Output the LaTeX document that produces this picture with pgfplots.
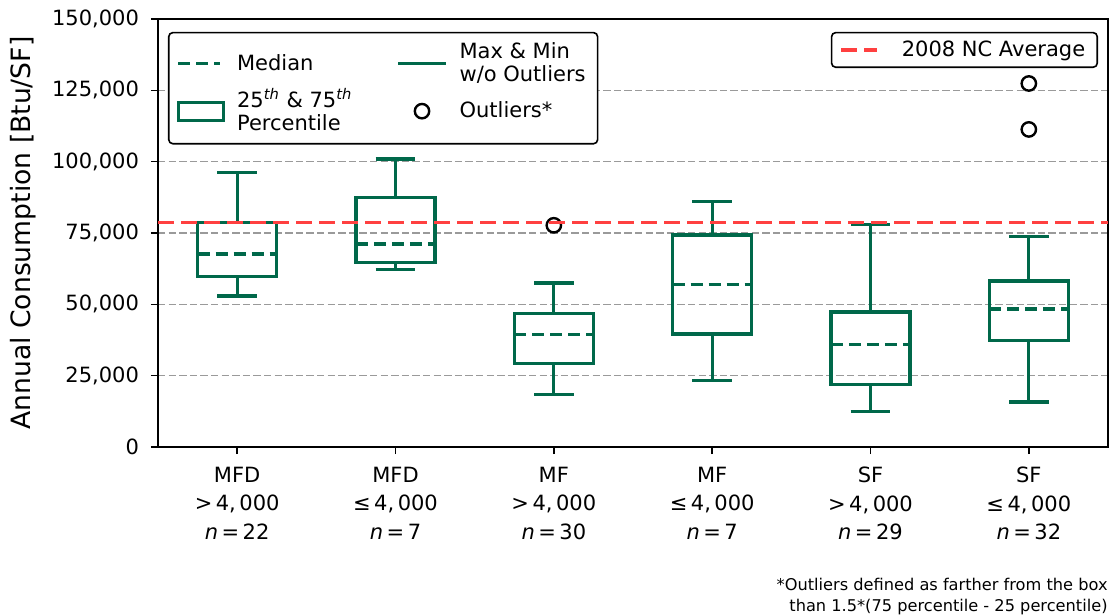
\documentclass[border=0pt]{standalone}
\usepackage{fontspec}
\setmainfont{DejaVu Sans}
\usepackage{pgfplots}
\pgfplotsset{compat=1.18}
\usepgfplotslibrary{statistics}
\definecolor{boxgreen}{HTML}{00684A}
\definecolor{avgred}{HTML}{FF4040}
\definecolor{gridgray}{HTML}{9A9A9A}

\begin{document}
\begin{tikzpicture}
% values in thousands of Btu/SF
\pgfplotsset{
  base/.style={width=475pt, height=214pt, scale only axis,
    xmin=0.5, xmax=6.5, ymin=0, ymax=150},
  bx/.style={forget plot, boxgreen, solid, line width=1.6pt,
    mark=o, mark size=3.6pt, mark options={draw=black, solid, line width=1.2pt},
    boxplot/draw direction=y,
    boxplot/box extend=0.5, boxplot/whisker extend=0.25,
    boxplot/every median/.style={line width=1.7pt, dash pattern=on 6pt off 3pt}},
}
\begin{axis}[base,
  axis line style={line width=0.8pt},
  tick pos=left, tick align=outside, major tick length=3.5pt,
  tick style={line width=0.8pt, black},
  xtick={1,2,3,4,5,6},
  xticklabels={
    {MFD\\{>}\,4,\,000\\\textit{n}\,=\,22},
    {MFD\\≤\,4,\,000\\\textit{n}\,=\,7},
    {MF\\{>}\,4,\,000\\\textit{n}\,=\,30},
    {MF\\≤\,4,\,000\\\textit{n}\,=\,7},
    {SF\\{>}\,4,\,000\\\textit{n}\,=\,29},
    {SF\\≤\,4,\,000\\\textit{n}\,=\,32}},
  xticklabel style={align=center, font=\fontsize{10.5}{14.25}\selectfont, yshift=-3pt},
  ytick={0,25,50,75,100,125,150},
  yticklabels={0,{25,000},{50,000},{75,000},{100,000},{125,000},{150,000}},
  yticklabel style={font=\fontsize{10.5}{12}\selectfont, xshift=-2.5pt},
  ymajorgrids,
  major grid style={gridgray, line width=0.8pt, dash pattern=on 3.7pt off 1.6pt},
  ylabel={Annual Consumption [Btu/SF]},
  ylabel style={font=\fontsize{13.3}{15}\selectfont,
    at={(axis description cs:-0.142,0.5)}, anchor=center},
  clip mode=individual,
  legend columns=2,
  legend style={at={(axis description cs:0.0105,0.970)}, anchor=north west,
    draw=black, line width=0.8pt, rounded corners=2pt, fill=white,
    font=\fontsize{10.5}{11.5}\selectfont, inner xsep=4pt, inner ysep=3pt,
    row sep=-2pt, cells={anchor=west, align=left},
    /tikz/every odd column/.append style={column sep=4pt},
    /tikz/every even column/.append style={column sep=20pt}},
]
\addlegendimage{legend image code/.code={\draw[boxgreen, line width=1.7pt, sharp corners, dash pattern=on 6pt off 3pt] (0pt,0pt) -- (21pt,0pt);}}
\addlegendentry{Median}
\addlegendimage{legend image code/.code={\draw[boxgreen, line width=1.6pt, sharp corners] (0pt,0pt) -- (24pt,0pt);}}
\addlegendentry{Max \& Min\\w/o Outliers}
\addlegendimage{legend image code/.code={\draw[boxgreen, line width=1.6pt, sharp corners] (0pt,-4.5pt) rectangle (22.5pt,4.5pt);}}
\addlegendentry{25\textsuperscript{\itshape th} \& 75\textsuperscript{\itshape th}\\Percentile}
\addlegendimage{legend image code/.code={\path[draw=none] (0pt,0pt) -- (24pt,0pt); \draw[black, solid, line width=1.2pt] (12pt,0pt) circle (3.6pt);}}
\addlegendentry{Outliers*}

\addplot[bx, boxplot prepared={draw position=1, lower whisker=52.9,
  lower quartile=59.7, median=67.7, upper quartile=78.6, upper whisker=96.1}]
  coordinates {};
\addplot[bx, boxplot prepared={draw position=2, lower whisker=62.3,
  lower quartile=64.7, median=71.1, upper quartile=87.4, upper whisker=100.9}]
  coordinates {};
\addplot[bx, boxplot prepared={draw position=3, lower whisker=18.4,
  lower quartile=29.4, median=39.5, upper quartile=46.9, upper whisker=57.5}]
  coordinates {(3,77.7)};
\addplot[bx, boxplot prepared={draw position=4, lower whisker=23.4,
  lower quartile=39.6, median=56.9, upper quartile=74.3, upper whisker=86.0}]
  coordinates {};
\addplot[bx, boxplot prepared={draw position=5, lower whisker=12.4,
  lower quartile=22.0, median=36.0, upper quartile=47.3, upper whisker=78.0}]
  coordinates {};
\addplot[bx, boxplot prepared={draw position=6, lower whisker=15.8,
  lower quartile=37.4, median=48.3, upper quartile=58.2, upper whisker=73.9}]
  coordinates {(6,111.3) (6,127.4)};
\end{axis}

\begin{axis}[base, hide axis,
  legend style={at={(axis description cs:0.9895,0.970)}, anchor=north east,
    draw=black, line width=0.8pt, rounded corners=2pt, fill=white,
    font=\fontsize{10.5}{12}\selectfont, inner xsep=4pt, inner ysep=2pt,
    cells={anchor=west},
    /tikz/every odd column/.append style={column sep=9.5pt}},
]
\addplot[avgred, line width=1.6pt, dash pattern=on 8pt off 3.5pt,
  legend image code/.code={\draw[avgred, line width=1.6pt, sharp corners, dash pattern=on 8pt off 3.5pt] (0pt,0pt) -- (18pt,0pt);}]
  coordinates {(0.5,78.6) (6.5,78.6)};
\addlegendentry{2008 NC Average}
\end{axis}

\node[anchor=north east, align=right, inner sep=0pt,
  font=\fontsize{8.1}{10.5}\selectfont]
  at ([yshift=-65.5pt]current axis.south east)
  {*Outliers defined as farther from the box\\than 1.5*(75 percentile - 25 percentile)};
\path ([xshift=-79pt,yshift=-82.5pt]current axis.south west)
  rectangle ([xshift=2pt,yshift=9.5pt]current axis.north east);
\end{tikzpicture}
\end{document}
